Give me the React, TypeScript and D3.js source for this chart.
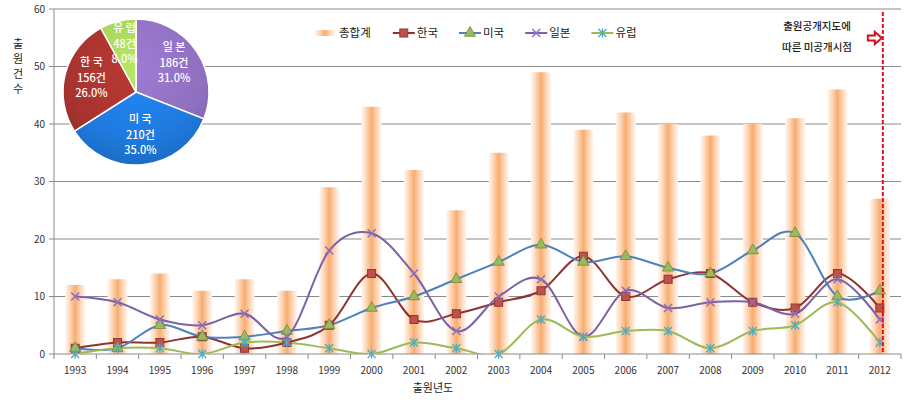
import * as d3 from 'd3';

const YEARS = ['1993', '1994', '1995', '1996', '1997', '1998', '1999', '2000', '2001', '2002',
  '2003', '2004', '2005', '2006', '2007', '2008', '2009', '2010', '2011', '2012'];
const TOTAL = [12, 13, 14, 11, 13, 11, 29, 43, 32, 25, 35, 49, 39, 42, 40, 38, 40, 41, 46, 27];
const KOREA = [1, 2, 2, 3, 1, 2, 5, 14, 6, 7, 9, 11, 17, 10, 13, 14, 9, 8, 14, 8];
const USA = [1, 1, 5, 3, 3, 4, 5, 8, 10, 13, 16, 19, 16, 17, 15, 14, 18, 21, 10, 11];
const JAPAN = [10, 9, 6, 5, 7, 3, 18, 21, 14, 4, 10, 13, 3, 11, 8, 9, 9, 7, 13, 6];
const EUROPE = [0, 1, 1, 0, 2, 2, 1, 0, 2, 1, 0, 6, 3, 4, 4, 1, 4, 5, 9, 2];
const Y_TICKS = [0, 10, 20, 30, 40, 50, 60];

const PIE_NAMES = ['일본', '미국', '한국', '유럽'];
const PIE_VALUES = [186, 210, 156, 48];
const PIE_COLORS = ['#8f6fbf', '#1f7be0', '#a8332f', '#a5d05a'];

const W = 907;
const H = 400;
const FONT = "'Noto Sans CJK KR', 'DejaVu Sans', sans-serif";

type Marker = 'square' | 'triangle' | 'x' | 'star';
const SERIES: { name: string; values: number[]; line: string; marker: Marker; fill: string; stroke: string }[] = [
  { name: '한국', values: KOREA, line: '#8e3330', marker: 'square', fill: '#c0504d', stroke: '#8c3836' },
  { name: '미국', values: USA, line: '#4f81bd', marker: 'triangle', fill: '#9bbb59', stroke: '#71893f' },
  { name: '일본', values: JAPAN, line: '#7b62a8', marker: 'x', fill: 'none', stroke: '#8a6fbd' },
  { name: '유럽', values: EUROPE, line: '#9bbb59', marker: 'star', fill: 'none', stroke: '#4bacc6' },
];

function MarkerShape({ type, fill, stroke }: { type: Marker; fill: string; stroke: string }) {
  if (type === 'square') {
    return <rect x={-4} y={-4} width={8} height={8} fill={fill} stroke={stroke} strokeWidth={1} />;
  }
  if (type === 'triangle') {
    return <path d={d3.symbol(d3.symbolTriangle, 55)() ?? ''} fill={fill} stroke={stroke} strokeWidth={0.8} />;
  }
  if (type === 'x') {
    return <path d="M-4,-4L4,4M-4,4L4,-4" stroke={stroke} strokeWidth={1.4} fill="none" />;
  }
  return <path d="M-4,-4L4,4M-4,4L4,-4M0,-4.5L0,4.5" stroke={stroke} strokeWidth={1.3} fill="none" />;
}

export default function App() {
  const margin = { left: 54, right: 6, top: 9, bottom: 46 };
  const x = d3.scaleBand().domain(YEARS).range([margin.left, W - margin.right]).padding(0);
  const cx = (yr: string) => (x(yr) ?? 0) + x.bandwidth() / 2;
  const y = d3.scaleLinear().domain([0, 60]).range([H - margin.bottom, margin.top]);
  const plotBottom = y(0);

  const line = d3.line<number>()
    .x((_, i) => cx(YEARS[i]))
    .y((d) => y(d))
    .curve(d3.curveCardinal.tension(0));

  // pie inset
  const pieC = { x: 136, y: 92 };
  const pieR = 73;
  const pieTotal = d3.sum(PIE_VALUES);
  const arcs = d3.pie<number>().sort(null)(PIE_VALUES);
  const arcGen = d3.arc<d3.PieArcDatum<number>>().innerRadius(0).outerRadius(pieR);
  const labelArc = d3.arc<d3.PieArcDatum<number>>().innerRadius(46).outerRadius(46);

  // legend
  const legendItems = [{ name: '총합계', kind: 'bar' as const }, ...SERIES.map((s) => ({ name: s.name, kind: 'line' as const, s }))];
  let lx = 315;
  const legendPos = legendItems.map((it) => {
    const p = lx;
    lx += 22 + 3 + it.name.length * 11.6 + 18;
    return p;
  });

  const barW = 20;
  const refX = cx('2012') + 3;

  return (
    <svg width={W} height={H} style={{ position: 'absolute', left: 0, top: 0, background: '#fff' }} fontFamily={FONT}>
      <defs>
        <linearGradient id="barGrad" x1="0" x2="1" y1="0" y2="0">
          <stop offset="0" stopColor="#fff6ef" />
          <stop offset="0.2" stopColor="#fddcc2" />
          <stop offset="0.5" stopColor="#f9ac6f" />
          <stop offset="0.8" stopColor="#fddcc2" />
          <stop offset="1" stopColor="#fff6ef" />
        </linearGradient>
        <clipPath id="plotClip">
          <rect x={margin.left} y={0} width={W - margin.left - margin.right} height={plotBottom} />
        </clipPath>
        {PIE_COLORS.map((c, i) => (
          <radialGradient key={i} id={`pieGrad${i}`} cx={0} cy={-25} r={pieR * 1.35} gradientUnits="userSpaceOnUse">
            <stop offset="0" stopColor={d3.color(c)?.brighter(0.3).formatHex() ?? c} />
            <stop offset="0.7" stopColor={c} />
            <stop offset="1" stopColor={d3.color(c)?.darker(0.35).formatHex() ?? c} />
          </radialGradient>
        ))}
      </defs>

      {/* gridlines */}
      {Y_TICKS.filter((t) => t > 0).map((t) => (
        <line key={t} x1={margin.left} x2={W - margin.right} y1={y(t)} y2={y(t)} stroke="#8a8a8a" strokeWidth={1} />
      ))}

      {/* total bars */}
      {YEARS.map((yr, i) => (
        <rect key={yr} x={cx(yr) - barW / 2} y={y(TOTAL[i])} width={barW} height={plotBottom - y(TOTAL[i])}
          fill="url(#barGrad)" rx={2} />
      ))}

      {/* axes */}
      <line x1={margin.left} x2={margin.left} y1={margin.top} y2={plotBottom} stroke="#8a8a8a" />
      <line x1={margin.left} x2={W - margin.right} y1={plotBottom} y2={plotBottom} stroke="#8a8a8a" />
      {Y_TICKS.map((t) => (
        <g key={t}>
          <line x1={margin.left - 5} x2={margin.left} y1={y(t)} y2={y(t)} stroke="#8a8a8a" />
          <text x={margin.left - 9} y={y(t) + 3.5} textAnchor="end" fontSize={10} fill="#333">{t}</text>
        </g>
      ))}
      {YEARS.map((yr) => (
        <g key={yr}>
          <line x1={x(yr)} x2={x(yr)} y1={plotBottom} y2={plotBottom + 5} stroke="#8a8a8a" />
          <text x={cx(yr)} y={plotBottom + 20} textAnchor="middle" fontSize={10} fill="#333">{yr}</text>
        </g>
      ))}
      <line x1={W - margin.right} x2={W - margin.right} y1={plotBottom} y2={plotBottom + 5} stroke="#8a8a8a" />

      {/* lines */}
      <g clipPath="url(#plotClip)">
        {SERIES.map((s) => (
          <path key={s.name} d={line(s.values) ?? ''} fill="none" stroke={s.line} strokeWidth={2} />
        ))}
      </g>
      {SERIES.map((s) => (
        <g key={s.name}>
          {s.values.map((v, i) => (
            <g key={i} transform={`translate(${cx(YEARS[i])},${y(v)})`}>
              <MarkerShape type={s.marker} fill={s.fill} stroke={s.stroke} />
            </g>
          ))}
        </g>
      ))}

      {/* axis titles */}
      <text x={433} y={392} textAnchor="middle" fontSize={11} fill="#222">출원년도</text>
      {['출', '원', '건', '수'].map((c, i) => (
        <text key={c} x={18} y={48 + i * 15} textAnchor="middle" fontSize={11} fill="#222">{c}</text>
      ))}

      {/* legend */}
      {legendItems.map((it, i) => {
        const px = legendPos[i];
        return (
          <g key={it.name} transform={`translate(${px},33)`}>
            {it.kind === 'bar' ? (
              <rect x={0} y={-3} width={20} height={6} fill="url(#barGrad)" />
            ) : (
              <g>
                <line x1={0} x2={22} y1={0} y2={0} stroke={it.s.line} strokeWidth={2} />
                <g transform="translate(11,0)">
                  <MarkerShape type={it.s.marker} fill={it.s.fill} stroke={it.s.stroke} />
                </g>
              </g>
            )}
            <text x={24} y={0} dy="0.35em" fontSize={11.5} fill="#222">{it.name}</text>
          </g>
        );
      })}

      {/* reference line: unpublished period */}
      <line x1={refX} x2={refX} y1={12} y2={plotBottom} stroke="#e01020" strokeWidth={2} strokeDasharray="4,2" />
      <text x={817} y={30} textAnchor="middle" fontSize={10.5} fontWeight={500} fill="#222">출원공개지도에</text>
      <text x={817} y={51} textAnchor="middle" fontSize={10.5} fontWeight={500} fill="#222">따른 미공개시점</text>
      <path d={`M${refX - 15},35.5h7v-3.5l7,6l-7,6v-3.5h-7z`} fill="#fff" stroke="#d01020" strokeWidth={2} />

      {/* pie */}
      <g transform={`translate(${pieC.x},${pieC.y})`}>
        {arcs.map((a, i) => (
          <path key={i} d={arcGen(a) ?? ''} fill={`url(#pieGrad${i})`} stroke="#fff" strokeWidth={1.5} />
        ))}
        {arcs.map((a, i) => {
          const [tx, ty] = labelArc.centroid(a);
          return (
            <text key={i} x={tx} textAnchor="middle" fontSize={11} fill="#fff" fontWeight={500}>
              <tspan x={tx} y={ty - 15}>{PIE_NAMES[i].split('').join(' ')}</tspan>
              <tspan x={tx} y={ty + 1}>{`${PIE_VALUES[i]}건`}</tspan>
              <tspan x={tx} y={ty + 16}>{`${((PIE_VALUES[i] / pieTotal) * 100).toFixed(1)}%`}</tspan>
            </text>
          );
        })}
      </g>
    </svg>
  );
}
